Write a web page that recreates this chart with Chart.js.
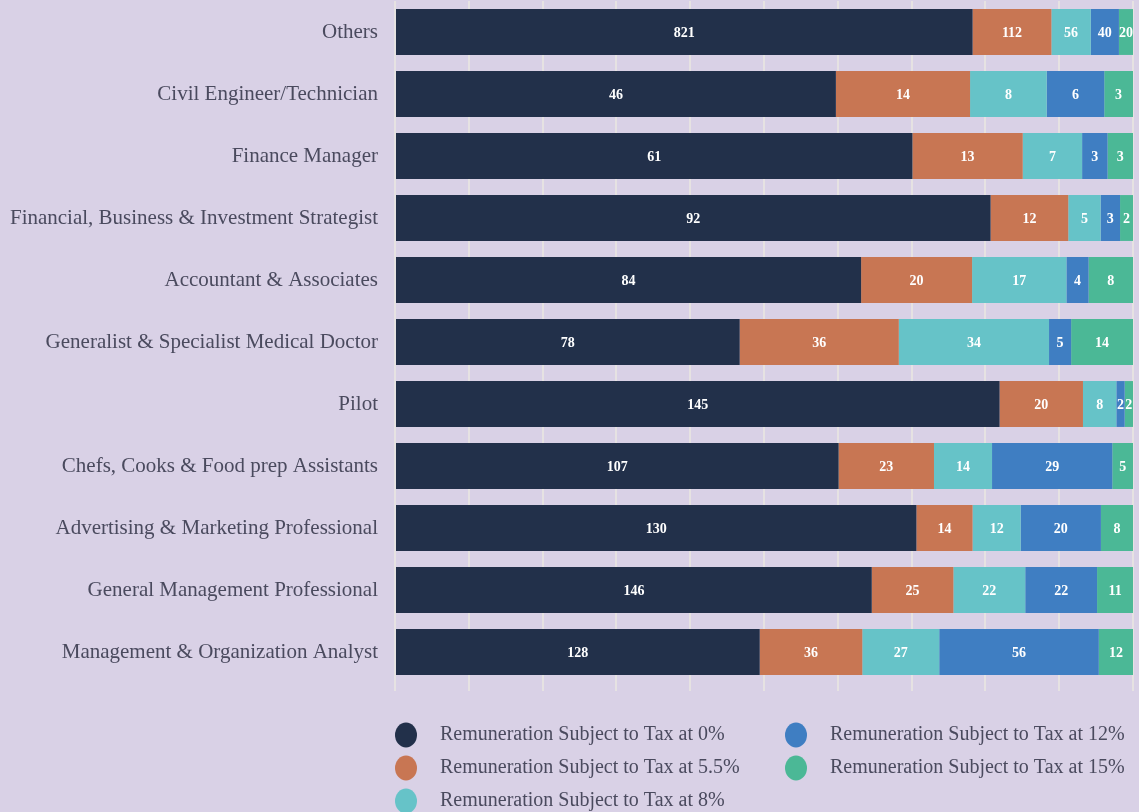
<!DOCTYPE html>
<html>
<head>
<meta charset="utf-8">
<script src="https://cdn.jsdelivr.net/npm/chart.js@4.4.1/dist/chart.umd.min.js"></script>
<style>
  html, body { margin: 0; padding: 0; background: #d9d1e6; }
  #wrap { width: 1139px; height: 812px; position: relative; }
</style>
</head>
<body>
<div id="wrap"><canvas id="taxChart" width="1139" height="812"></canvas></div>
<script>
const categories = [
  'Others',
  'Civil Engineer/Technician',
  'Finance Manager',
  'Financial, Business & Investment Strategist',
  'Accountant & Associates',
  'Generalist & Specialist Medical Doctor',
  'Pilot',
  'Chefs, Cooks & Food prep Assistants',
  'Advertising & Marketing Professional',
  'General Management Professional',
  'Management & Organization Analyst'
];

const seriesNames = [
  'Remuneration Subject to Tax at 0%',
  'Remuneration Subject to Tax at 5.5%',
  'Remuneration Subject to Tax at 8%',
  'Remuneration Subject to Tax at 12%',
  'Remuneration Subject to Tax at 15%'
];

const tax0   = [821, 46, 61, 92, 84, 78, 145, 107, 130, 146, 128];
const tax55  = [112, 14, 13, 12, 20, 36, 20, 23, 14, 25, 36];
const tax8   = [56, 8, 7, 5, 17, 34, 8, 14, 12, 22, 27];
const tax12  = [40, 6, 3, 3, 4, 5, 2, 29, 20, 22, 56];
const tax15  = [20, 3, 3, 2, 8, 14, 2, 5, 8, 11, 12];

const colors = ['#22304a', '#c87653', '#66c3c8', '#3f7ec2', '#4bb896'];

const allSeries = [tax0, tax55, tax8, tax12, tax15];
const totals = categories.map((c, i) => allSeries.reduce((s, arr) => s + arr[i], 0));

const serif = '"Liberation Serif", "DejaVu Serif", serif';

// value labels in the middle of each segment (raw counts)
const valueLabels = {
  id: 'valueLabels',
  afterDatasetsDraw(chart) {
    const ctx = chart.ctx;
    ctx.save();
    ctx.fillStyle = '#ffffff';
    ctx.font = 'bold 14px ' + serif;
    ctx.textAlign = 'center';
    ctx.textBaseline = 'middle';
    chart.data.datasets.forEach((ds, di) => {
      chart.getDatasetMeta(di).data.forEach((bar, i) => {
        const x = (bar.x + bar.base) / 2;
        ctx.fillText(String(ds.raw[i]), x, bar.y + 1);
      });
    });
    ctx.restore();
  }
};

// two-column legend at the bottom
const colLegend = {
  id: 'colLegend',
  afterDraw(chart) {
    const ctx = chart.ctx;
    ctx.save();
    ctx.font = '20px ' + serif;
    ctx.textBaseline = 'middle';
    ctx.textAlign = 'left';
    chart.data.datasets.forEach((ds, i) => {
      const col = i < 3 ? 0 : 1;
      const row = i < 3 ? i : i - 3;
      const cx = col === 0 ? 406 : 796;
      const cy = 735 + row * 33;
      ctx.fillStyle = ds.backgroundColor;
      ctx.beginPath();
      ctx.ellipse(cx, cy, 11, 12.5, 0, 0, Math.PI * 2);
      ctx.fill();
      ctx.fillStyle = '#4a4a5e';
      ctx.fillText(ds.label, cx + 34, cy);
    });
    ctx.restore();
  }
};

const ctx = document.getElementById('taxChart');
new Chart(ctx, {
  type: 'bar',
  data: {
    labels: categories,
    datasets: allSeries.map((arr, k) => ({
      label: seriesNames[k],
      raw: arr,
      data: arr.map((v, i) => v / totals[i] * 100),
      backgroundColor: colors[k],
      borderWidth: 0,
      barPercentage: 0.74,
      categoryPercentage: 1
    }))
  },
  options: {
    indexAxis: 'y',
    responsive: false,
    animation: false,
    layout: { padding: { top: 1, right: 6, bottom: 121, left: 0 } },
    plugins: {
      legend: { display: false },
      tooltip: { enabled: false }
    },
    scales: {
      x: {
        stacked: true,
        min: 0,
        max: 100,
        border: { display: false },
        grid: { color: '#e6e2e2', lineWidth: 2, drawTicks: true, tickLength: 8 },
        ticks: { display: false, stepSize: 10 }
      },
      y: {
        stacked: true,
        border: { display: false },
        grid: { display: false, drawTicks: false },
        afterFit(scale) {
          scale.width = 395;
          scale.paddingTop = 0;
          scale.paddingBottom = 0;
        },
        ticks: {
          color: '#4a4a5e',
          padding: 17,
          font: { family: serif, size: 21 }
        }
      }
    }
  },
  plugins: [valueLabels, colLegend]
});
</script>
</body>
</html>
